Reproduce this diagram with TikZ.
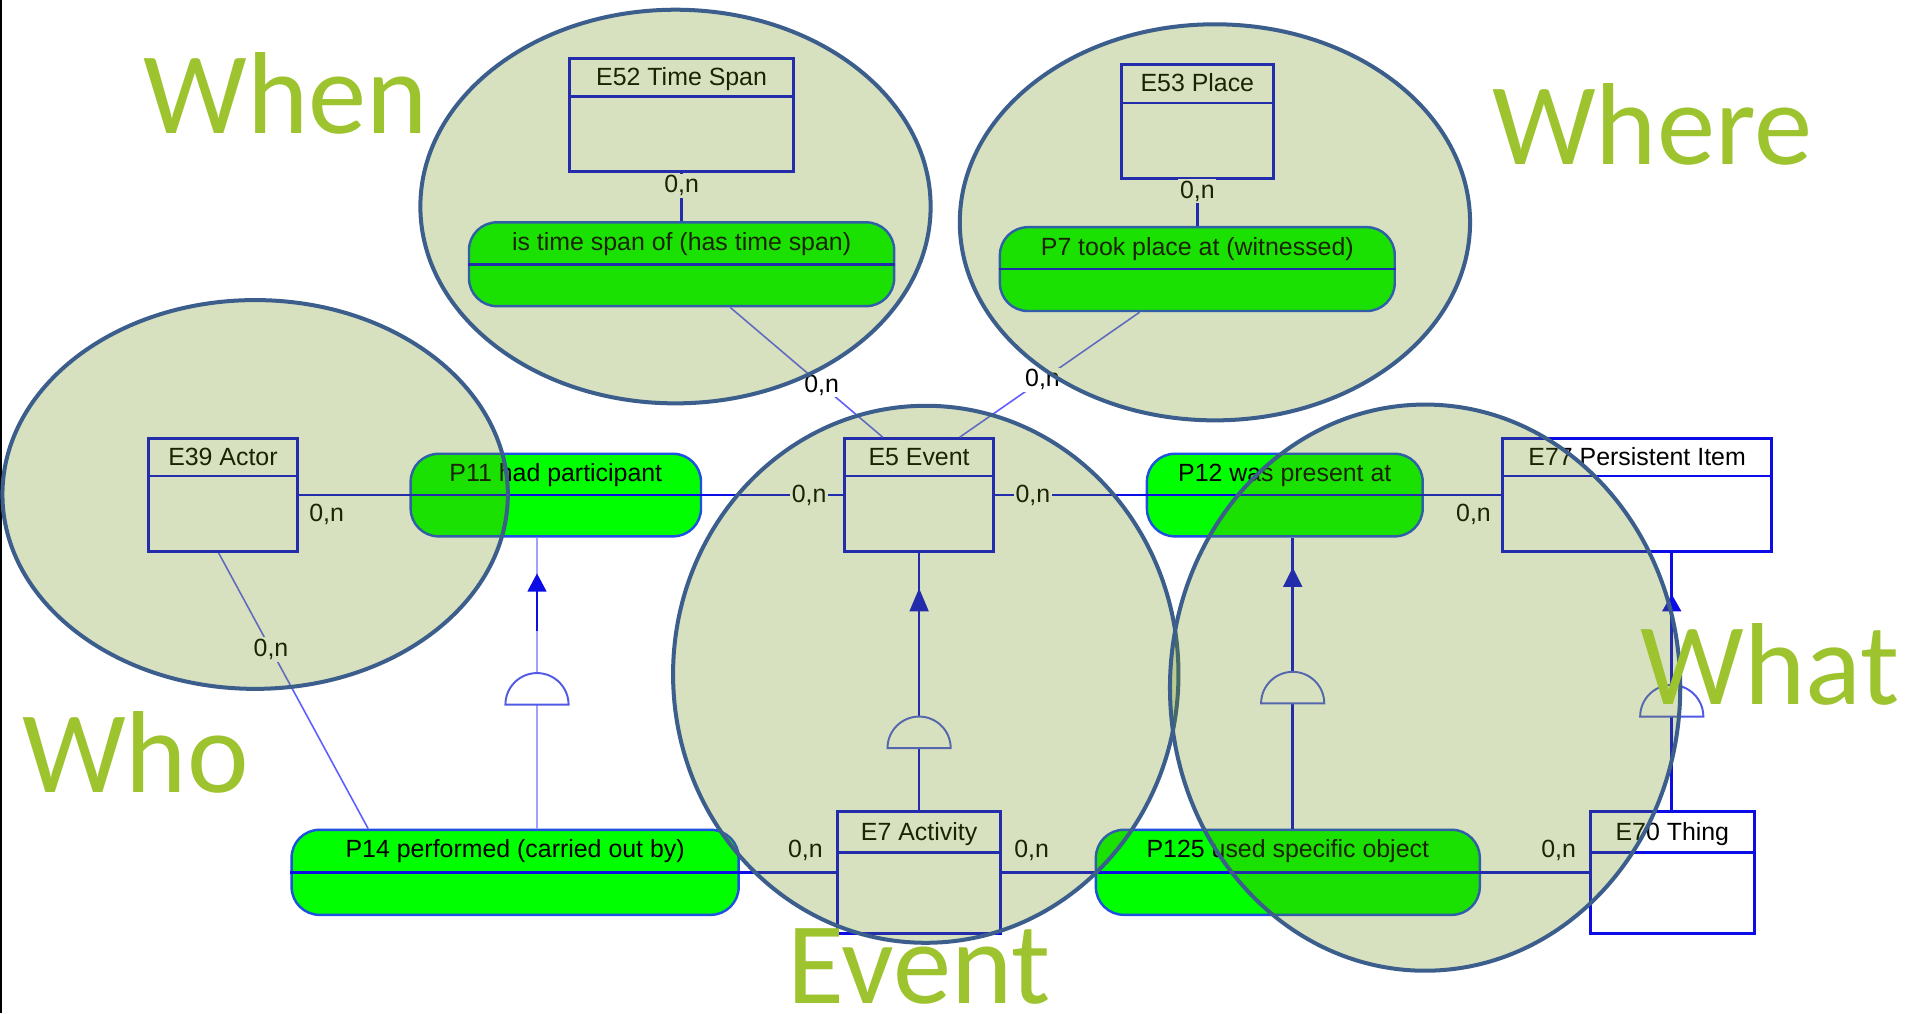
\documentclass[tikz,border=0pt]{standalone}
\usepackage{fontspec}
\setmainfont{Liberation Sans}
\newfontfamily\bigfamily{Carlito}
\usetikzlibrary{calc,arrows.meta}
\definecolor{entblue}{RGB}{12,12,230}
\definecolor{propdraw}{RGB}{30,80,225}
\definecolor{propfill}{RGB}{0,255,0}
\definecolor{lightline}{RGB}{95,95,255}
\definecolor{palesub}{RGB}{160,160,255}
\definecolor{domeblue}{RGB}{80,90,230}
\definecolor{ellfill}{RGB}{102,141,8}
\definecolor{elldraw}{RGB}{60,94,140}
\definecolor{bigtext}{RGB}{157,195,46}
\newcommand{\smallfnt}{\fontsize{20.5}{24}\selectfont}
\newcommand{\bigfnt}{\bigfamily\fontsize{96}{110}\selectfont}
\newcommand{\entsplit}[2]{\draw[entblue, line width=2.4pt] ([yshift=-#2pt]#1.north west) -- ([yshift=-#2pt]#1.north east);}
\newcommand{\propsplit}[1]{\draw[entblue, line width=2.2pt] (#1.west) -- (#1.east);}
\begin{document}
\begin{tikzpicture}[x=1pt,y=-1pt,
  ent/.style={rectangle, draw=entblue, line width=2.4pt, inner sep=0pt, text height=22.5pt, font=\smallfnt},
  prop/.style={rectangle, rounded corners=23pt, draw=propdraw, fill=propfill, line width=2pt, inner sep=0pt, text height=23pt, font=\smallfnt},
  conn/.style={draw=entblue, line width=2pt},
  diag/.style={draw=lightline, line width=1.3pt},
  lab/.style={font=\smallfnt, inner sep=1.5pt, fill=white},
  labnf/.style={font=\smallfnt, inner sep=1.5pt},
  subl/.style={draw=entblue, line width=2.2pt},
  subpale/.style={draw=palesub, line width=2.2pt},
  dome/.style={draw=domeblue, fill=white, line width=1.6pt},
  ell/.style={fill=ellfill, fill opacity=0.26, draw=elldraw, draw opacity=1, line width=3.3pt},
  big/.style={font=\bigfnt, text=bigtext, anchor=base west, inner sep=0pt}]
\useasboundingbox (0,0) rectangle (1568,834);
\fill[white] (0,0) rectangle (1568,834);
\draw[black, line width=1.6pt] (0.8,0) -- (0.8,834);

% entity boxes
\node[ent, minimum width=184pt, text depth=70.5pt] (e52) at (561,94.5) {E52 Time Span};
\node[ent, minimum width=125pt, text depth=71.5pt] (e53) at (985.5,100) {E53 Place};
\node[ent, minimum width=123pt, text depth=70.5pt] (e39) at (183.5,407.5) {E39 Actor};
\node[ent, minimum width=123pt, text depth=70.5pt] (e5) at (756.5,407.5) {E5 Event};
\node[ent, minimum width=221pt, text depth=70.5pt] (e77) at (1347.5,407.5) {E77 Persistent Item};
\node[ent, minimum width=134pt, text height=24pt, text depth=76pt] (e7) at (756.5,718) {E7 Activity};
\node[ent, minimum width=135pt, text height=24pt, text depth=76pt] (e70) at (1376.5,718) {E70 Thing};
\entsplit{e52}{33}
\entsplit{e53}{33}
\entsplit{e39}{32}
\entsplit{e5}{32}
\entsplit{e77}{32}
\entsplit{e7}{35}
\entsplit{e70}{35}

% property nodes
\node[prop, minimum width=350pt, text depth=46pt] (tsp) at (561,217.5) {is time span of (has time span)};
\node[prop, minimum width=325pt, text depth=46pt] (p7) at (985.5,221.5) {P7 took place at (witnessed)};
\node[prop, minimum width=239pt, text depth=45pt] (p11) at (457.5,407.5) {P11 had participant};
\node[prop, minimum width=227pt, text depth=45pt] (p12) at (1057.5,407.5) {P12 was present at};
\node[prop, minimum width=368pt, text depth=47pt] (p14) at (424,718) {P14 performed (carried out by)};
\node[prop, minimum width=316pt, text depth=47pt] (p125) at (1060,718) {P125 used specific object};
\propsplit{tsp}
\propsplit{p7}
\propsplit{p11}
\propsplit{p12}
\propsplit{p14}
\propsplit{p125}

% connectors
\draw[conn] (e52) -- (tsp) node[lab, pos=0.27] {0,n};
\draw[conn] (e53) -- (p7) node[lab, pos=0.24] {0,n};
\draw[diag] ([xshift=40pt]tsp.south) -- ([xshift=-30pt]e5.north) node[lab, pos=0.6] {0,n};
\draw[diag] ([xshift=-47.5pt]p7.south) -- ([xshift=33.5pt]e5.north) node[lab, pos=0.54] {0,n};
\draw[conn] (e39) -- (p11) node[labnf, pos=0.25, below=5pt] {0,n};
\draw[conn] (p11) -- (e5) node[lab, pos=0.76] {0,n};
\draw[conn] (e5) -- (p12) node[lab, pos=0.25] {0,n};
\draw[conn] (p12) -- (e77) node[labnf, pos=0.64, below=5pt] {0,n};
\draw[diag] ([xshift=-3.5pt]e39.south) -- ([xshift=-121pt]p14.north) node[lab, pos=0.35] {0,n};
\draw[conn] (p14) -- (e7) node[labnf, pos=0.68, above=7pt] {0,n};
\draw[conn] (e7) -- (p125) node[labnf, pos=0.32, above=7pt] {0,n};
\draw[conn] (p125) -- (e70) node[labnf, pos=0.72, above=7pt] {0,n};

% subclass links
\draw[subl] (e7.north) -- (e5.south);
\fill[entblue] ($(e5.south)+(0,29)$) -- ++(-8,19) -- ++(16,0) -- cycle;
\draw[dome] ($(e7.north)+(-26,-51)$) arc[start angle=180, end angle=360, radius=26] -- cycle;

\draw[subpale] ([xshift=18pt]p14.north) -- ([xshift=-15.5pt]p11.south);
\draw[subl] ($([xshift=-15.5pt]p11.south)+(0,44)$) -- ++(0,33);
\fill[entblue] ($([xshift=-15.5pt]p11.south)+(0,29.5)$) -- ++(-8,15) -- ++(16,0) -- cycle;
\draw[dome] ($([xshift=18pt]p14.north)+(-26,-102)$) arc[start angle=180, end angle=360, radius=26] -- cycle;

\draw[subl] ([xshift=4pt]p125.north) -- ([xshift=6.5pt]p12.south);
\fill[entblue] ($([xshift=6.5pt]p12.south)+(0,24.5)$) -- ++(-8,16) -- ++(16,0) -- cycle;
\draw[dome] ($([xshift=4pt]p125.north)+(-26,-103)$) arc[start angle=180, end angle=360, radius=26] -- cycle;

\draw[subl] ([xshift=-0.5pt]e70.north) -- ([xshift=28.5pt]e77.south);
\fill[entblue] ($([xshift=28.5pt]e77.south)+(0,34)$) -- ++(-8,14) -- ++(16,0) -- cycle;
\draw[dome] ($([xshift=-0.5pt]e70.north)+(-26,-77)$) arc[start angle=180, end angle=360, radius=26] -- cycle;

% grouping ellipses
\draw[ell] (556,170) ellipse [x radius=210, y radius=162];
\draw[ell] (1000,183) ellipse [x radius=210, y radius=163];
\draw[ell] (210,407) ellipse [x radius=208, y radius=160];
\draw[ell] (762,555) ellipse [x radius=208, y radius=221];
\draw[ell] (1173,566) ellipse [x radius=210, y radius=233];

% big labels
\node[big] (when) at (118,110) {When};
\node[big] (where) at (1228,135) {Where};
\node[big] (who) at (18,652) {Who};
\node[big] (event) at (648,826) {Event};
\node[big] (what) at (1350,580) {What};
\end{tikzpicture}
\end{document}
